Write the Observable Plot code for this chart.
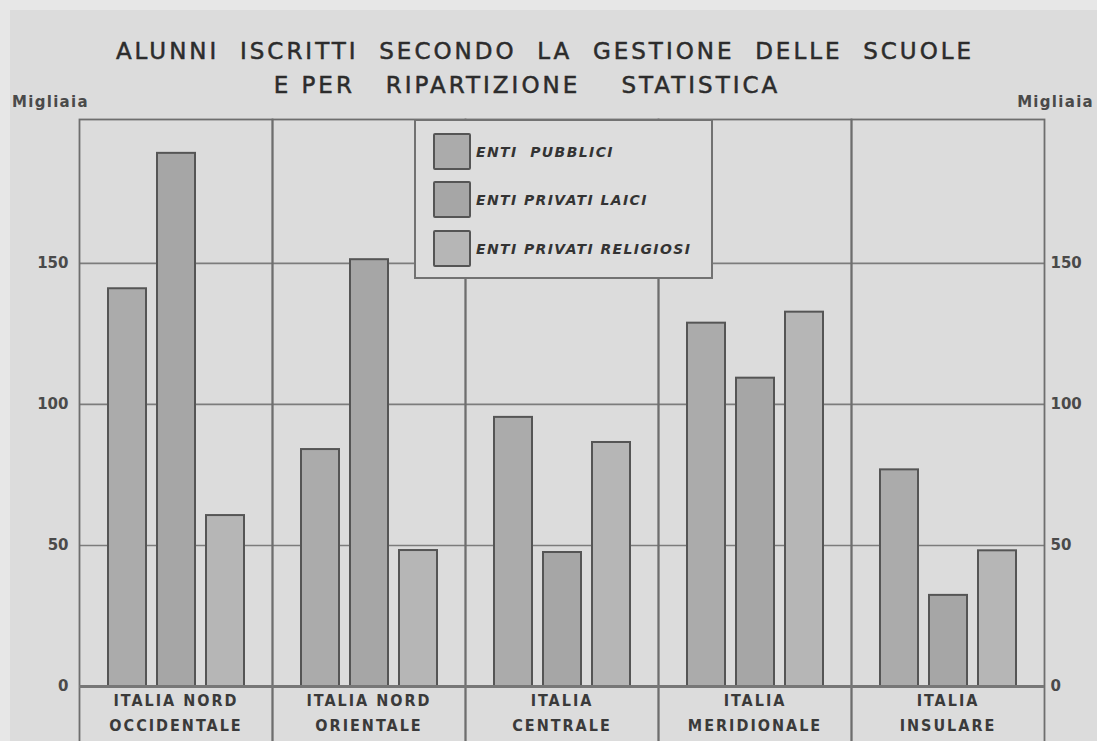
<!DOCTYPE html>
<html><head><meta charset="utf-8">
<script src="https://cdn.jsdelivr.net/npm/d3@7"></script>
<script src="https://cdn.jsdelivr.net/npm/@observablehq/plot@0.6"></script>
<style>
html,body{margin:0;padding:0;background:#e6e6e6;}
#wrap{position:relative;width:1097px;height:741px;overflow:hidden;background:#dcdcdc;box-shadow:inset 10px 10px 0 #e7e7e7;}
#wrap svg{position:absolute;left:0;top:0;}
.ttl{position:absolute;white-space:pre;font-family:"DejaVu Sans";font-size:23px;line-height:23px;letter-spacing:3px;color:#2c2c2c;transform:translateX(-50%);-webkit-text-stroke:0.5px #2c2c2c;}
.mig{position:absolute;font-family:"DejaVu Sans";font-weight:bold;font-size:15px;line-height:15px;letter-spacing:1.3px;color:#4a4a4a;}
#legend{position:absolute;left:414px;top:119px;width:295px;height:156px;border:2px solid #727272;background:#dddddd;z-index:2;}
.li{position:absolute;left:17px;height:37px;display:flex;align-items:center;}
.sw{width:34px;height:33px;border:2px solid #555;border-radius:2px;margin-right:5px;}
.lt{font-family:"DejaVu Sans";font-weight:bold;font-style:italic;font-size:14px;letter-spacing:1.4px;color:#333;white-space:pre;}
g[aria-label="fx-axis tick label"] text{letter-spacing:2px;}
</style></head>
<body><div id="wrap">
<div class="ttl" style="left:545px;top:40px;">ALUNNI  ISCRITTI  SECONDO  LA  GESTIONE  DELLE  SCUOLE</div>
<div class="ttl" style="left:527px;top:74px;">E PER   RIPARTIZIONE    STATISTICA</div>
<div class="mig" style="left:12px;top:95px;">Migliaia</div>
<div class="mig" style="right:3px;top:95px;">Migliaia</div>
<div id="legend"></div>
</div>
<script>
const regions = ["ITALIA NORD\nOCCIDENTALE", "ITALIA NORD\nORIENTALE", "ITALIA\nCENTRALE", "ITALIA\nMERIDIONALE", "ITALIA\nINSULARE"];
const series = ["ENTI PUBBLICI", "ENTI PRIVATI LAICI", "ENTI PRIVATI RELIGIOSI"];
const legendLabels = ["ENTI  PUBBLICI", "ENTI PRIVATI LAICI", "ENTI PRIVATI RELIGIOSI"];
const pubblici = [141, 84, 95.4, 128.8, 76.8];
const laici = [189, 151.3, 47.5, 109.3, 32.3];
const religiosi = [60.6, 48.2, 86.5, 132.7, 48.1];
const yTicks = [0, 50, 100, 150];
const colors = ["#ababab", "#a6a6a6", "#b6b6b6"];

const values = [pubblici, laici, religiosi];
const data = regions.flatMap((r, i) => series.map((s, j) => ({region: r, series: s, value: values[j][i]})));

const chart = Plot.plot({
  width: 1097, height: 741,
  marginTop: 119, marginBottom: 55, marginLeft: 78, marginRight: 53,
  style: {background: "transparent", fontFamily: "DejaVu Sans", color: "#444"},
  fx: {domain: regions, padding: 0, label: null},
  x: {domain: series, paddingInner: 0.23, paddingOuter: 0.565, axis: null},
  y: {domain: [0, 201], label: null},
  color: {domain: series, range: colors},
  marks: [
    Plot.gridY(yTicks, {stroke: "#7c7c7c", strokeOpacity: 1, strokeWidth: 1.6}),
    Plot.frame({stroke: "#6e6e6e", strokeWidth: 1.8, insetBottom: -80}),
    Plot.barY(data, {fx: "region", x: "series", y: "value", fill: "series", stroke: "#555", strokeWidth: 2}),
    Plot.ruleY([0], {stroke: "#777", strokeWidth: 3}),
    Plot.axisY(yTicks, {anchor: "left", tickSize: 0, tickPadding: 11, fontSize: 15, fontWeight: "bold", fill: "#4a4a4a", label: null}),
    Plot.axisY(yTicks, {anchor: "right", tickSize: 0, tickPadding: 6, fontSize: 15, fontWeight: "bold", fill: "#4a4a4a", label: null}),
    Plot.axisFx({anchor: "bottom", tickSize: 0, tickPadding: 1, fontSize: 16, lineHeight: 1.6, fontWeight: "bold", label: null, fontFamily: "DejaVu Sans Condensed", fill: "#3a3a3a"})
  ]
});
document.getElementById("wrap").appendChild(chart);

const legend = document.getElementById("legend");
const tops = [12, 60, 109];
series.forEach((s, j) => {
  const item = document.createElement("div");
  item.className = "li";
  item.style.top = tops[j] + "px";
  const sw = document.createElement("div");
  sw.className = "sw";
  sw.style.background = colors[j];
  const t = document.createElement("span");
  t.className = "lt";
  t.textContent = legendLabels[j];
  item.appendChild(sw); item.appendChild(t);
  legend.appendChild(item);
});
</script>
</body></html>
